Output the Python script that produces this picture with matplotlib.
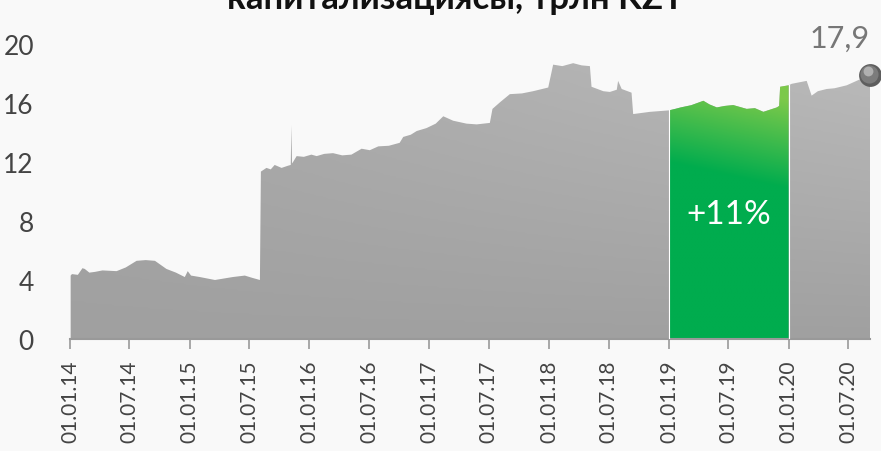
import matplotlib.pyplot as plt
import matplotlib.dates as mdates
import numpy as np
import pandas as pd
from matplotlib.colors import LinearSegmentedColormap

# market capitalisation, trillion KZT
dates = ['2014-01-03', '2014-01-07', '2014-01-25', '2014-02-08', '2014-02-15', '2014-03-01',
         '2014-03-18', '2014-04-10', '2014-05-23', '2014-06-20', '2014-07-23', '2014-08-20',
         '2014-09-17', '2014-10-22', '2014-11-20', '2014-12-17', '2014-12-26', '2015-01-05',
         '2015-02-01', '2015-03-19', '2015-04-15', '2015-05-12', '2015-06-18', '2015-07-10',
         '2015-08-03', '2015-08-06', '2015-08-23', '2015-09-05', '2015-09-17', '2015-10-08',
         '2015-10-28', '2015-11-05', '2015-11-07', '2015-11-09', '2015-11-12', '2015-11-23',
         '2015-12-15', '2016-01-07', '2016-01-23', '2016-02-15', '2016-03-13', '2016-04-10',
         '2016-05-08', '2016-06-08', '2016-07-03', '2016-07-29', '2016-08-30', '2016-10-02',
         '2016-10-13', '2016-11-05', '2016-11-23', '2016-12-23', '2017-01-20', '2017-02-12',
         '2017-03-14', '2017-04-24', '2017-05-25', '2017-07-04', '2017-07-12', '2017-08-04',
         '2017-09-03', '2017-10-10', '2017-11-13', '2017-12-29', '2018-01-13', '2018-02-10',
         '2018-03-15', '2018-04-10', '2018-05-05', '2018-05-10', '2018-06-15', '2018-07-05',
         '2018-07-26', '2018-07-30', '2018-08-10', '2018-09-09', '2018-09-14', '2018-11-04',
         '2019-01-01', '2019-01-20', '2019-02-06', '2019-03-10', '2019-04-16', '2019-05-05',
         '2019-05-27', '2019-06-20', '2019-07-16', '2019-08-26', '2019-09-20', '2019-10-16',
         '2019-11-26', '2019-12-03', '2019-12-06', '2020-01-01', '2020-01-10', '2020-02-25',
         '2020-03-11', '2020-03-30', '2020-04-26', '2020-05-20', '2020-06-26', '2020-08-05',
         '2020-09-05']
values = [4.3, 4.4, 4.35, 4.8, 4.75, 4.5,
          4.55, 4.65, 4.6, 4.85, 5.3, 5.35,
          5.3, 4.75, 4.5, 4.2, 4.6, 4.3,
          4.2, 4.0, 4.1, 4.2, 4.3, 4.15,
          4.0, 11.35, 11.6, 11.5, 11.8, 11.6,
          11.75, 11.8, 14.5, 11.9, 12.0, 12.4,
          12.35, 12.5, 12.4, 12.55, 12.6, 12.45,
          12.5, 12.9, 12.8, 13.06, 13.1, 13.3,
          13.7, 13.85, 14.1, 14.3, 14.6, 15.1,
          14.8, 14.6, 14.55, 14.65, 15.6, 16.05,
          16.6, 16.65, 16.8, 17.05, 18.6, 18.5,
          18.7, 18.55, 18.5, 17.1, 16.8, 16.75,
          16.9, 17.5, 16.95, 16.7, 15.25, 15.4,
          15.5, 15.6, 15.7, 15.85, 16.15, 15.9,
          15.7, 15.8, 15.86, 15.6, 15.65, 15.4,
          15.7, 15.8, 17.1, 17.2, 17.3, 17.5,
          16.5, 16.8, 16.95, 17.0, 17.2, 17.6,
          17.9]

period_start = '2019-01-01'
period_end = '2020-01-01'
period_label = '+11%'
last_label = '17,9'
title = 'капитализациясы, трлн KZT'

tick_dates = pd.date_range('2014-01-01', '2020-07-01', freq='6MS')

x = mdates.date2num(pd.to_datetime(dates))
y = np.array(values)
p0 = mdates.date2num(pd.Timestamp(period_start))
p1 = mdates.date2num(pd.Timestamp(period_end))

plt.rcParams['font.family'] = ['Lato', 'DejaVu Sans']
bg = '#f9f9f9'
fig = plt.figure(figsize=(8.81, 4.52), dpi=100, facecolor=bg)
ax = fig.add_axes([70 / 881, 1 - 340 / 452, 800 / 881, 295 / 452])
ax.set_facecolor(bg)

xmin = mdates.date2num(pd.Timestamp('2014-01-01'))
xmax = x[-1]
ymax = 20

# gray gradient fill over the whole series
gray_cmap = LinearSegmentedColormap.from_list('g', ['#a0a0a0', '#bcbcbc'])
gx, gy = np.meshgrid(np.linspace(0, 1, 200), np.linspace(0, 1, 200))
shade = gy * (0.3 + 0.7 * gx)
poly = ax.fill_between(x, y, 0, color='none', lw=0)
im = ax.imshow(shade, extent=[xmin, xmax, 0, ymax], origin='lower', aspect='auto',
               cmap=gray_cmap, vmin=0, vmax=1, zorder=1, interpolation='bilinear')
im.set_clip_path(poly.get_paths()[0], transform=ax.transData)

# green highlighted period
mask = (x >= p0) & (x <= p1)
gxs = np.concatenate([[p0], x[mask], [p1]])
gys = np.concatenate([[np.interp(p0, x, y)], y[mask], [np.interp(p1, x, y)]])
gpoly = ax.fill_between(gxs, gys, 0, color='none', lw=0)
green_cmap = LinearSegmentedColormap.from_list('gr', ['#00ac4e', '#00ac4e', '#7cc94a'])
hx, hy = np.meshgrid(np.linspace(0, 1, 100), np.linspace(0, 1, 200))
gshade = np.clip((hy * ymax - 6) / 12 + 0.15 * hx, 0, 1)
gim = ax.imshow(gshade, extent=[p0, p1, 0, ymax], origin='lower', aspect='auto',
                cmap=green_cmap, vmin=0, vmax=1, zorder=2, interpolation='bilinear')
gim.set_clip_path(gpoly.get_paths()[0], transform=ax.transData)
for xp in (p0, p1):
    ax.plot([xp, xp], [0, np.interp(xp, x, y)], color='white', lw=0.8, zorder=3)

ax.text((p0 + p1) / 2, 8.5, period_label, color='white', fontsize=24,
        ha='center', va='center', zorder=4)

# end marker, shaded ball
ax.scatter([x[-1]], [y[-1]], s=270, color='#5e5e5e', zorder=5, clip_on=False, lw=0)
ax.scatter([x[-1] - 2], [y[-1] + 0.1], s=170, color='#7c7c7c', zorder=6, clip_on=False, lw=0)
ax.scatter([x[-1] - 5], [y[-1] + 0.3], s=50, color='#b0b0b0', zorder=7, clip_on=False, lw=0)
ax.text(x[-1] - 2, y[-1] + 1.9, last_label, color='#777777', fontsize=22,
        ha='right', va='baseline')

ax.set_xlim(xmin, xmax)
ax.set_ylim(0, ymax)
ax.set_yticks(range(0, 21, 4))
ax.tick_params(axis='y', length=0, pad=26, labelsize=19, labelcolor='#444444')
ax.set_xticks(mdates.date2num(tick_dates))
ax.set_xticklabels([d.strftime('%d.%m.%y') for d in tick_dates], rotation=90,
                   fontsize=15, color='#444444')
ax.tick_params(axis='x', length=7, width=1.2, color='#999999', pad=8)
for s in ['top', 'right', 'left']:
    ax.spines[s].set_visible(False)
ax.spines['bottom'].set_color('#999999')
ax.spines['bottom'].set_linewidth(1.5)

fig.text(455 / 881, 1 - 9 / 452, title, ha='center', va='baseline',
         fontsize=25, fontweight='bold', color='#111111')

fig.savefig('out.png', dpi=100, facecolor=bg)
